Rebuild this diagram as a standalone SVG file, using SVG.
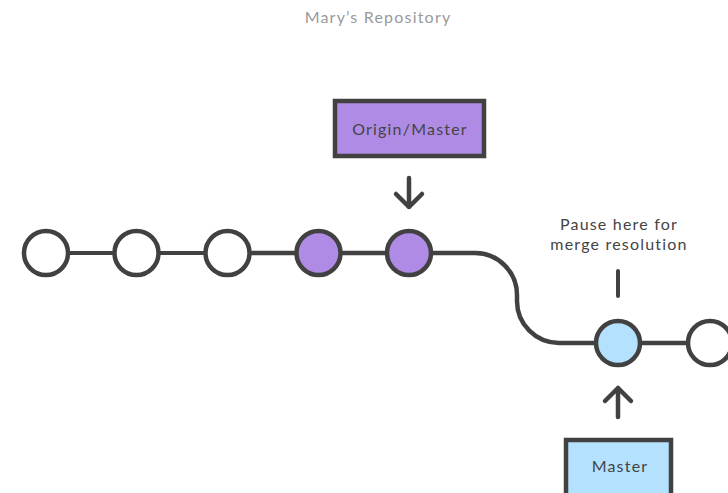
<svg xmlns="http://www.w3.org/2000/svg" width="728" height="493" viewBox="0 0 728 493">
<defs>
<style>
.c{stroke:#414141;stroke-width:4.5;}
.w{fill:#fff;}
.p{fill:#af8be6;}
.b{fill:#b4e1fd;}
.ln{fill:none;stroke:#414141;stroke-width:4.5;stroke-linecap:round;stroke-linejoin:round;}
.t{font-family:"Lato","Noto Sans",sans-serif;font-size:16px;fill:#444;text-anchor:middle;letter-spacing:1.2px;}
</style>
</defs>
<rect width="728" height="493" fill="#fff"/>
<text class="t" x="378" y="23" style="fill:#9a9a9a">Mary’s Repository</text>
<g id="connectors">
<path class="ln" d="M46 253 H227" style="stroke-width:4"/>
<path class="ln" d="M227 253 H475 A42 42 0 0 1 517 295 V301 A42 42 0 0 0 559 343 H710"/>
<path class="ln" d="M409 178 V207 M396 194 L409 207 L422 194"/>
<path class="ln" d="M618 417 V388 M605 401 L618 388 L631 401"/>
<path class="ln" d="M618 271 V296" style="stroke-width:4"/>
</g>
<g id="c1"><circle class="c w" cx="46" cy="253" r="22"/></g>
<g id="c2"><circle class="c w" cx="136.5" cy="253" r="22"/></g>
<g id="c3"><circle class="c w" cx="227.5" cy="253" r="22"/></g>
<g id="c4"><circle class="c p" cx="318.5" cy="253" r="22"/></g>
<g id="c5"><circle class="c p" cx="409" cy="253" r="22"/></g>
<g id="c6"><circle class="c b" cx="618" cy="343" r="22"/></g>
<g id="c7"><circle class="c w" cx="710" cy="343" r="22"/></g>
<g id="origin"><rect class="c p" x="335" y="101" width="149" height="55"/><text class="t" x="410" y="135">Origin/Master</text></g>
<g id="master"><rect class="c b" x="566" y="440" width="105" height="60"/><text class="t" x="620" y="472">Master</text></g>
<g id="pause"><text class="t" x="619" y="230">Pause here for</text><text class="t" x="619" y="250">merge resolution</text></g>
</svg>
